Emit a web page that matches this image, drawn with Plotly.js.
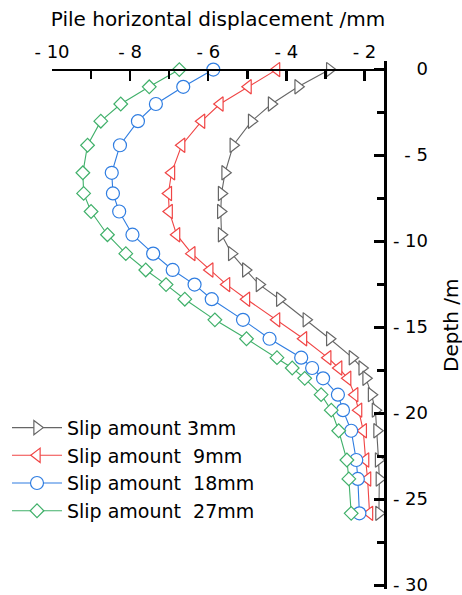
<!DOCTYPE html>
<html>
<head>
<meta charset="utf-8">
<script src="https://cdn.plot.ly/plotly-3.0.1.min.js"></script>
<style>
html,body{margin:0;padding:0;background:#fff;}
#chart{width:462px;height:595px;}
</style>
</head>
<body>
<div id="chart"></div>
<script>
// Depth (m) of each calculation point
const depth = [0, 1.0, 2.0, 3.0, 4.4, 6.0, 7.2, 8.25, 9.6, 10.7, 11.65, 12.5, 13.35, 14.55, 15.65, 16.75, 17.35, 17.95, 18.9, 19.8, 21.0, 22.7, 23.8, 25.8];
// Pile horizontal displacement (mm) for each slip amount
const slip3  = [-2.89,-3.70,-4.38,-4.89,-5.36,-5.57,-5.66,-5.68,-5.66,-5.40,-5.04,-4.69,-4.17,-3.49,-2.89,-2.31,-2.06,-1.96,-1.82,-1.72,-1.68,-1.64,-1.62,-1.63];
const slip9  = [-4.25,-4.98,-5.70,-6.17,-6.68,-6.94,-7.02,-7.00,-6.81,-6.42,-5.96,-5.53,-5.02,-4.25,-3.56,-2.94,-2.66,-2.43,-2.25,-2.15,-2.03,-1.97,-1.92,-1.87];
const slip18 = [-5.87,-6.64,-7.34,-7.80,-8.26,-8.47,-8.44,-8.28,-7.94,-7.41,-6.91,-6.35,-5.91,-5.11,-4.43,-3.62,-3.34,-3.06,-2.68,-2.55,-2.34,-2.21,-2.17,-2.13];
const slip27 = [-6.74,-7.51,-8.24,-8.75,-9.09,-9.21,-9.19,-9.00,-8.58,-8.11,-7.60,-7.08,-6.60,-5.83,-5.02,-4.24,-3.85,-3.53,-3.11,-2.85,-2.66,-2.45,-2.40,-2.34];
const seriesNames = ['Slip amount 3mm', 'Slip amount\u00a0 9mm', 'Slip amount\u00a0 18mm', 'Slip amount\u00a0 27mm'];
const xTickVals = [-10, -8, -6, -4, -2];
const xTickText = ['- 10', '- 8', '- 6', '- 4', '- 2'];
const yTickVals = [0, 5, 10, 15, 20, 25, 30];
const yTickText = ['0', '- 5', '- 10', '- 15', '- 20', '- 25', '- 30'];

const FONT = 'DejaVu Sans, Liberation Sans, Arial, sans-serif';
const colors = ['#666666', '#f04545', '#2f7de1', '#40b06a'];
const symbols = ['triangle-right', 'triangle-left', 'circle', 'diamond'];
const sizes = [12.5, 12.5, 13, 10.5];
const values = [slip3, slip9, slip18, slip27];
// the first series is drawn against the label axis (same range as the main depth axis)
const yAxisOf = ['y2', 'y', 'y', 'y'];

const traces = values.map((v, i) => ({
  type: 'scatter',
  mode: 'lines+markers',
  name: seriesNames[i],
  x: v,
  y: depth,
  yaxis: yAxisOf[i],
  line: {color: colors[i], width: 1.1},
  marker: {symbol: symbols[i], size: sizes[i], color: '#ffffff', line: {color: colors[i], width: 1.2}},
  cliponaxis: false
}));

const W = 462;
const H = 595;
const yTop = -0.5, yBot = 30.2;
const yRange = [yBot, yTop];
const topPx = 61.2, pxPerUnit = 17.2;
const plotH = (yBot - yTop) * pxPerUnit;

const layout = {
  width: W,
  height: H,
  margin: {l: 0, r: 0, t: topPx, b: H - topPx - plotH, autoexpand: false},
  paper_bgcolor: '#ffffff',
  plot_bgcolor: '#ffffff',
  font: {family: FONT, color: '#000000', size: 18},
  showlegend: true,
  legend: {
    x: 7 / W, y: 1 - (409 - topPx) / plotH, xanchor: 'left', yanchor: 'top',
    bgcolor: 'rgba(0,0,0,0)',
    font: {family: FONT, size: 19, color: '#000'},
    itemwidth: 50,
    tracegroupgap: 0
  },
  xaxis: {
    domain: [52 / W, 384 / W],
    side: 'top',
    anchor: 'free',
    position: yBot / (yBot - yTop),
    range: [-10, -1.5],
    tickmode: 'array',
    tickvals: xTickVals,
    ticktext: xTickText,
    ticks: 'inside',
    ticklen: 10,
    tickwidth: 2.5,
    tickcolor: '#000',
    minor: {ticks: 'inside', ticklen: 8, tickwidth: 2.5, tickcolor: '#000', tickmode: 'linear', tick0: 0, dtick: 1},
    showline: true,
    linewidth: 2.5,
    linecolor: '#000',
    showgrid: false,
    zeroline: false,
    ticklabelstandoff: 3,
    tickfont: {family: FONT, size: 18},
    title: {text: 'Pile horizontal displacement /mm', font: {family: FONT, size: 20}, standoff: 8}
  },
  yaxis: {
    range: yRange,
    side: 'right',
    anchor: 'x',
    tickmode: 'array',
    tickvals: yTickVals,
    ticks: 'inside',
    ticklen: 10,
    tickwidth: 2.5,
    tickcolor: '#000',
    minor: {ticks: 'inside', ticklen: 7, tickwidth: 2.5, tickcolor: '#000', tickmode: 'linear', tick0: 0, dtick: 2.5},
    showticklabels: false,
    showline: true,
    linewidth: 2.5,
    linecolor: '#000',
    showgrid: false,
    zeroline: false
  },
  yaxis2: {
    overlaying: 'y',
    anchor: 'free',
    side: 'left',
    position: 428 / W,
    range: yRange,
    tickmode: 'array',
    tickvals: yTickVals,
    ticktext: yTickText,
    ticks: '',
    showline: false,
    showgrid: false,
    zeroline: false,
    ticklabeloverflow: 'allow',
    ticklabelshift: 1,
    tickfont: {family: FONT, size: 18}
  },
  annotations: [{
    text: 'Depth /m',
    xref: 'paper', yref: 'paper',
    x: 451 / W, y: 0.5,
    xanchor: 'center', yanchor: 'middle',
    textangle: -90,
    showarrow: false,
    font: {family: FONT, size: 20, color: '#000'}
  }]
};

Plotly.newPlot('chart', traces, layout, {displayModeBar: false, staticPlot: true});
</script>
</body>
</html>
